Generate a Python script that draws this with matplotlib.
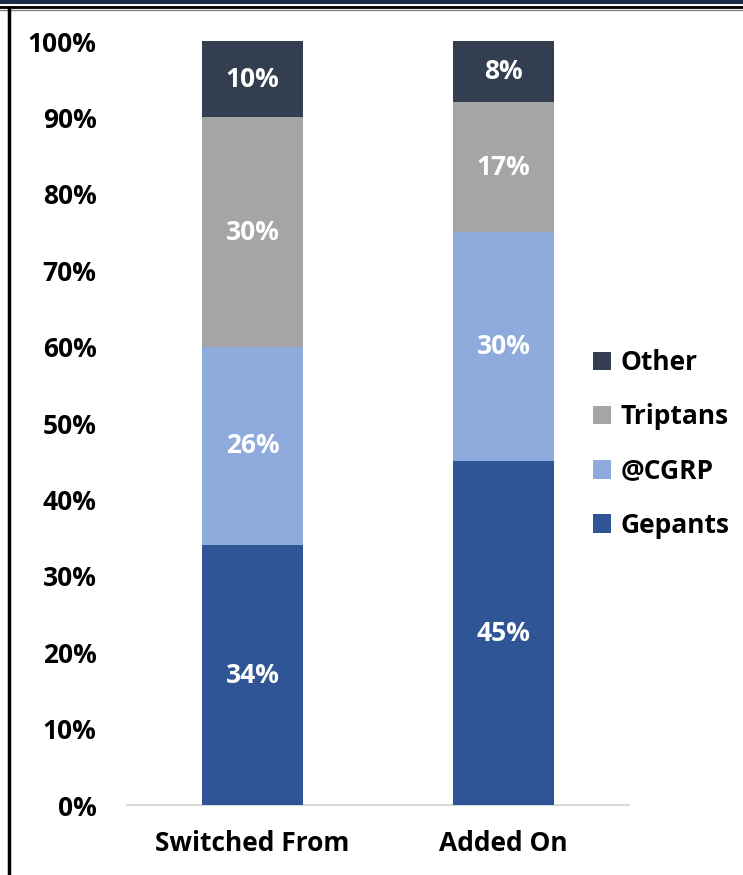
import matplotlib
matplotlib.use("Agg")
import matplotlib.pyplot as plt
from matplotlib.patches import Rectangle, Patch
from matplotlib.lines import Line2D

categories = ["Switched From", "Added On"]
series_names = ["Gepants", "@CGRP", "Triptans", "Other"]
gepants = [34, 45]
cgrp = [26, 30]
triptans = [30, 17]
other = [10, 8]
yticks = [0, 10, 20, 30, 40, 50, 60, 70, 80, 90, 100]
colors = ["#2f5597", "#8faadc", "#a5a5a5", "#333f50"]

plt.rcParams['font.family'] = ['Open Sans', 'DejaVu Sans']
plt.rcParams['font.weight'] = 'bold'
FS = 19

W, H = 743, 875
fig = plt.figure(figsize=(W / 100, H / 100), dpi=100)
ax = fig.add_axes([127 / W, (H - 805) / H, (629 - 127) / W, (805 - 41) / H])

series = [gepants, cgrp, triptans, other]
x = list(range(len(categories)))
bottom = [0] * len(categories)
for vals, col, name in zip(series, colors, series_names):
    ax.bar(x, vals, width=0.4, bottom=bottom, color=col, label=name, zorder=3)
    for xi, v, b in zip(x, vals, bottom):
        ax.text(xi, b + v / 2, f"{v}%", ha="center", va="center", color="white",
                fontsize=FS, fontweight="bold", zorder=4)
    bottom = [b + v for b, v in zip(bottom, vals)]

ax.set_xlim(-0.5, 1.5)
ax.set_ylim(0, 100)
ax.set_yticks(yticks)
ax.set_yticklabels([f"{t}%" for t in yticks], fontsize=FS, fontweight="bold")
ax.set_xticks(x)
ax.set_xticklabels(categories, fontsize=FS, fontweight="bold")
ax.tick_params(axis="both", length=0)
ax.tick_params(axis="y", pad=22)
ax.tick_params(axis="x", pad=18)
for s in ["top", "right", "left"]:
    ax.spines[s].set_visible(False)
ax.spines["bottom"].set_color("#d9d9d9")
ax.spines["bottom"].set_linewidth(1.5)

handles = [Patch(facecolor=c, label=n) for c, n in zip(colors, series_names)][::-1]
fig.legend(handles=handles, loc="center left", bbox_to_anchor=(593 / W, 1 - 444 / H),
           frameon=False, handlelength=0.7, handleheight=0.7,
           handletextpad=0.35, labelspacing=1.03, borderpad=0, borderaxespad=0,
           prop={'weight': 'bold', 'size': FS})

# frame decorations
fig.patches.append(Rectangle((0, 1 - 4 / H), 1, 4 / H, transform=fig.transFigure,
                             facecolor="#1f2d4d", edgecolor="none"))
fig.add_artist(Line2D([0, 1], [1 - 6.5 / H, 1 - 6.5 / H], transform=fig.transFigure,
                      color="black", lw=2))
fig.add_artist(Line2D([0, 1], [1 - 9.5 / H, 1 - 9.5 / H], transform=fig.transFigure,
                      color="#808080", lw=1))
fig.add_artist(Line2D([8.5 / W, 8.5 / W], [0, 1 - 8 / H], transform=fig.transFigure,
                      color="black", lw=2.5))

fig.savefig("out.png", dpi=100)
